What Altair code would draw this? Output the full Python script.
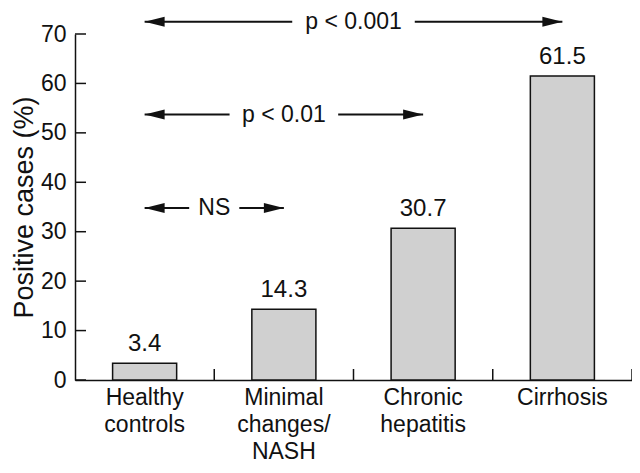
import altair as alt
import pandas as pd

# ---- data ----
categories = ["Healthy\ncontrols", "Minimal\nchanges/\nNASH", "Chronic\nhepatitis", "Cirrhosis"]
values = [3.4, 14.3, 30.7, 61.5]
value_labels = ["3.4", "14.3", "30.7", "61.5"]
y_ticks = [0, 10, 20, 30, 40, 50, 60, 70]

cmp_from = ["Healthy\ncontrols", "Healthy\ncontrols", "Healthy\ncontrols"]
cmp_to = ["Cirrhosis", "Chronic\nhepatitis", "Minimal\nchanges/\nNASH"]
cmp_text = ["p < 0.001", "p < 0.01", "NS"]
cmp_y = [72.5, 53.7, 34.8]

# ---- styling / layout ----
FONT = "Liberation Sans"
W, H = 557, 346
half_gap = {"p < 0.001": 0.44, "p < 0.01": 0.39, "NS": 0.18}
INK = "#111111"
LEFT_HEAD = "M0,0L2,-0.5L2,0.5Z"
RIGHT_HEAD = "M0,0L-2,-0.5L-2,0.5Z"

n = len(categories)
bars_df = pd.DataFrame({"cat": categories, "value": values, "lab": value_labels})

seg_rows, head_rows, text_rows = [], [], []
for f, t, txt, yv in zip(cmp_from, cmp_to, cmp_text, cmp_y):
    a = categories.index(f) + 0.5
    b = categories.index(t) + 0.5
    m = (a + b) / 2
    g = half_gap[txt]
    seg_rows.append({"x": a, "x2": m - g, "y": yv})
    seg_rows.append({"x": m + g, "x2": b, "y": yv})
    head_rows.append({"x": a, "y": yv, "dir": "left"})
    head_rows.append({"x": b, "y": yv, "dir": "right"})
    text_rows.append({"x": m, "y": yv, "t": txt})
seg_df = pd.DataFrame(seg_rows)
head_df = pd.DataFrame(head_rows)
text_df = pd.DataFrame(text_rows)
xticks_df = pd.DataFrame({"b": list(range(1, n + 1))})
yticks_df = pd.DataFrame({"v": y_ticks})

yscale = alt.Scale(domain=[0, 70], nice=False)
xq = alt.Scale(domain=[0, n], nice=False, zero=False)

y_axis = alt.Axis(
    title="Positive cases (%)",
    values=y_ticks,
    ticks=False,
    tickSize=0,
    grid=False,
    labelPadding=9,
    labelFontSize=23,
    labelColor=INK,
    labelFont=FONT,
    domainColor=INK,
    domainWidth=1.5,
    titleFontSize=27,
    titleFontWeight="normal",
    titleFont=FONT,
    titleColor=INK,
    titleX=-51,
    titleY=H / 2,
    titleAngle=270,
    titleBaseline="middle",
    titleAlign="center",
)

x_axis = alt.Axis(
    title=None,
    labelExpr="split(datum.label, '\\n')",
    labelAngle=0,
    labelFontSize=23,
    labelLineHeight=27,
    labelPadding=6,
    labelColor=INK,
    ticks=False,
    tickSize=0,
    domainColor=INK,
    domainWidth=1.5,
    labelFont=FONT,
)

xband = alt.X(
    "cat:N",
    sort=categories,
    scale=alt.Scale(paddingInner=0.54, paddingOuter=0.27),
    axis=x_axis,
)

bars = alt.Chart(bars_df).mark_bar(fill="#d0d0d0", stroke=INK, strokeWidth=1.5).encode(
    x=xband,
    y=alt.Y("value:Q", scale=yscale, axis=y_axis),
)

bar_text = alt.Chart(bars_df).mark_text(
    dy=-12, baseline="alphabetic", fontSize=24, font=FONT, color=INK
).encode(x=xband, y=alt.Y("value:Q", scale=yscale, axis=y_axis), text="lab:N")

segs = alt.Chart(seg_df).mark_rule(color=INK, strokeWidth=2).encode(
    x=alt.X("x:Q", scale=xq, axis=None),
    x2="x2:Q",
    y=alt.Y("y:Q", scale=yscale, axis=y_axis),
)

heads = alt.Chart(head_df).mark_point(filled=True, opacity=1, size=400, color=INK).encode(
    x=alt.X("x:Q", scale=xq, axis=None),
    y=alt.Y("y:Q", scale=yscale, axis=y_axis),
    shape=alt.Shape("dir:N", scale=alt.Scale(domain=["left", "right"], range=[LEFT_HEAD, RIGHT_HEAD]), legend=None),
)

cmp_labels = alt.Chart(text_df).mark_text(baseline="middle", fontSize=23, font=FONT, color=INK).encode(
    x=alt.X("x:Q", scale=xq, axis=None),
    y=alt.Y("y:Q", scale=yscale, axis=y_axis),
    text="t:N",
)

xticks = alt.Chart(xticks_df).mark_rule(color=INK, strokeWidth=1.5).encode(
    x=alt.X("b:Q", scale=xq, axis=None),
    y=alt.value(H),
    y2=alt.value(H - 11),
)

yticks = alt.Chart(yticks_df).mark_rule(color=INK, strokeWidth=1.5).encode(
    y=alt.Y("v:Q", scale=yscale, axis=y_axis),
    x=alt.value(0),
    x2=alt.value(11),
)

chart = (
    alt.layer(
        alt.layer(bars, bar_text),
        alt.layer(segs, heads, cmp_labels, xticks, yticks),
    )
    .resolve_scale(x="independent")
    .properties(
        width=W,
        height=H,
        autosize=alt.AutoSizeParams(type="none"),
        padding={"left": 67, "top": 26, "right": 0, "bottom": 85},
        background="white",
    )
    .configure_view(stroke=None)
)

chart.save("out.html", embed_options={"renderer": "svg", "actions": False})
